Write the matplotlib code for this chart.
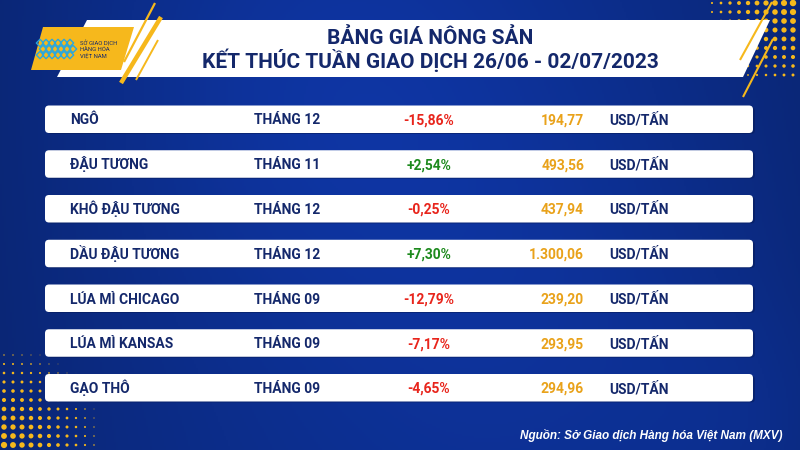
import numpy as np
import matplotlib
matplotlib.use("Agg")
import matplotlib.pyplot as plt
from matplotlib.patches import Polygon, FancyBboxPatch

# Bảng giá nông sản - tuần 26/06 - 02/07/2023
names = ["NGÔ", "ĐẬU TƯƠNG", "KHÔ ĐẬU TƯƠNG", "DẦU ĐẬU TƯƠNG",
         "LÚA MÌ CHICAGO", "LÚA MÌ KANSAS", "GẠO THÔ"]
months = ["THÁNG 12", "THÁNG 11", "THÁNG 12", "THÁNG 12",
          "THÁNG 09", "THÁNG 09", "THÁNG 09"]
changes = [-15.86, 2.54, -0.25, 7.30, -12.79, -7.17, -4.65]
prices = [194.77, 493.56, 437.94, 1300.06, 239.20, 293.95, 294.96]
unit = "USD/TẤN"

title1 = "BẢNG GIÁ NÔNG SẢN"
title2 = "KẾT THÚC TUẦN GIAO DỊCH 26/06 - 02/07/2023"
source = "Nguồn: Sở Giao dịch Hàng hóa Việt Nam (MXV)"

NAVY = "#14286b"
RED = "#e8251c"
GREEN = "#1d8a1d"
ORANGE = "#e9a21a"
YELLOW = "#f6b81c"
FONT = ["Roboto", "DejaVu Sans"]


def vn_num(v, dec=2):
    s = f"{abs(v):,.{dec}f}"
    return s.replace(",", "X").replace(".", ",").replace("X", ".")


def vn_pct(v):
    sign = "+" if v > 0 else "-"
    return sign + vn_num(v) + "%"


fig = plt.figure(figsize=(8, 4.5), dpi=100)
ax = fig.add_axes([0, 0, 1, 1])
ax.set_xlim(0, 800)
ax.set_ylim(450, 0)
ax.axis("off")

# background: blue with soft lighter swooshes
xx, yy = np.meshgrid(np.linspace(0, 800, 400), np.linspace(0, 450, 225))
base = np.array([12, 45, 138]) / 255.0
glow = (0.10 * np.exp(-((xx - 330) ** 2 + (yy - 90) ** 2) / (2 * 160 ** 2))
        + 0.07 * np.exp(-((xx - 560) ** 2 + (yy - 330) ** 2) / (2 * 180 ** 2))
        + 0.05 * np.exp(-((xx - 760) ** 2 + (yy - 430) ** 2) / (2 * 90 ** 2)))
dark = 0.06 * np.clip((np.abs(xx - 400) / 400) ** 2, 0, 1)
img = np.clip(base[None, None, :] * (1 + 1.6 * glow[..., None] - 2.5 * dark[..., None]), 0, 1)
ax.imshow(img, extent=[0, 800, 450, 0], aspect="auto", zorder=0)

# halftone dots, bottom-left and top-right
gx, gy = np.meshgrid(np.arange(4, 100, 9), np.arange(355, 450, 9))
d = np.hypot(gx - 0, gy - 450)
s = np.clip(1 - d / 110, 0, 1) ** 1.5 * 22
ax.scatter(gx.ravel(), gy.ravel(), s=s.ravel(), color=YELLOW, lw=0, zorder=1)
gx, gy = np.meshgrid(np.arange(712, 800, 9), np.arange(3, 78, 9))
d = np.hypot(gx - 800, gy - 0)
s = np.clip(1 - d / 105, 0, 1) ** 1.3 * 24
ax.scatter(gx.ravel(), gy.ravel(), s=s.ravel(), color=YELLOW, lw=0, zorder=1)

# header banner
ax.add_patch(Polygon([(87, 20), (770, 20), (743, 77), (57, 77)],
                     closed=True, fc="white", ec="none", zorder=2))
ax.add_patch(Polygon([(43, 27), (134, 27), (121, 70), (31, 70)],
                     closed=True, fc=YELLOW, ec="none", zorder=3))
for (x0, y0, x1, y1, w) in [(155, 3, 124, 62, 1.6), (161, 17, 121, 83, 3.2),
                            (158, 40, 136, 80, 1.4), (772, 2, 740, 60, 1.5),
                            (773, 39, 743, 97, 1.5)]:
    ax.plot([x0, x1], [y0, y1], color=YELLOW, lw=w, solid_capstyle="butt", zorder=3)

# logo mark
for cx in np.arange(40, 76, 6):
    for cy in (43, 49, 55):
        ax.scatter(cx + (3 if cy == 49 else 0), cy, s=14, marker="D",
                   facecolor="none", edgecolor="#2aa7df", lw=1.0, zorder=4)
for i, t in enumerate(["SỞ GIAO DỊCH", "HÀNG HÓA", "VIỆT NAM"]):
    ax.text(80, 43 + i * 6.2, t, fontsize=4.2, color=NAVY, family=FONT,
            va="center", ha="left", zorder=4)

ax.text(430, 44, title1, fontsize=15, fontweight="bold", color=NAVY,
        family=FONT, ha="center", va="baseline", zorder=4)
ax.text(430, 68, title2, fontsize=15, fontweight="bold", color=NAVY,
        family=FONT, ha="center", va="baseline", zorder=4)

# rows
row_y = 119.5 + 44.75 * np.arange(len(names))
for i, y in enumerate(row_y):
    ax.add_patch(FancyBboxPatch((47, y - 12.5), 708, 27, boxstyle="round,pad=0,rounding_size=4",
                                fc="#061a55", ec="none", alpha=0.5, zorder=4))
    ax.add_patch(FancyBboxPatch((45, y - 14), 708, 27.5, boxstyle="round,pad=0,rounding_size=4",
                                fc="white", ec="none", zorder=5))
    kw = dict(fontsize=10, fontweight="bold", family=FONT, va="baseline", zorder=6)
    yb = y + 5
    ax.text(70, yb, names[i], color=NAVY, ha="left", **kw)
    ax.text(254, yb, months[i], color=NAVY, ha="left", **kw)
    ax.text(429, yb, vn_pct(changes[i]), color=RED if changes[i] < 0 else GREEN,
            ha="center", **kw)
    ax.text(584, yb, vn_num(prices[i]), color=ORANGE, ha="right", **kw)
    ax.text(609, yb, unit, color=NAVY, ha="left", **kw)

ax.text(782, 439, source, fontsize=8.5, fontweight="bold", style="italic",
        color="white", family="Liberation Sans", ha="right", va="baseline", zorder=6)

fig.savefig("out.png", dpi=100)
